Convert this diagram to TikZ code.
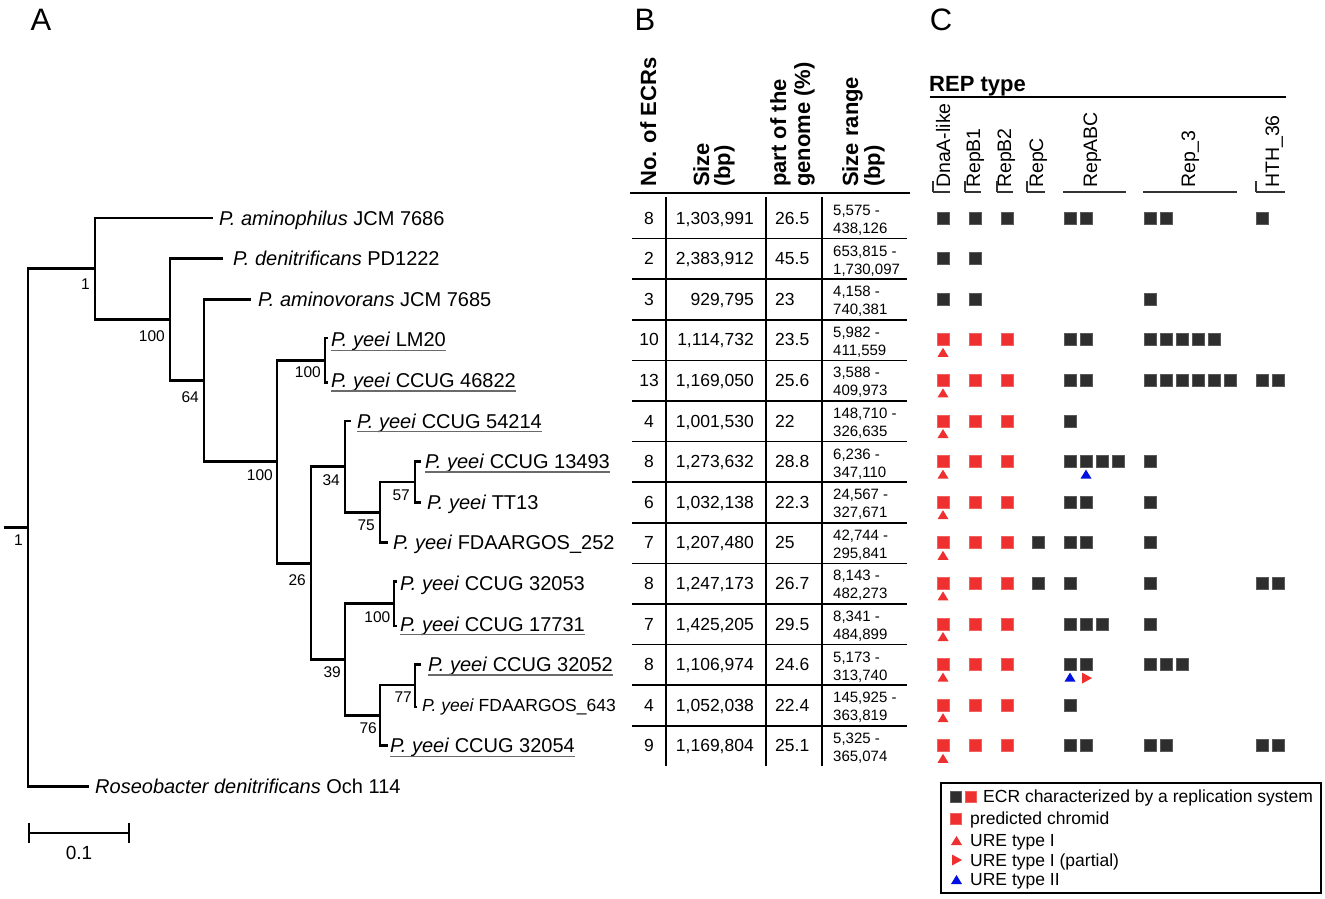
\documentclass[tikz,border=0pt]{standalone}
\usepackage{fontspec}
\setmainfont{Liberation Sans}
\usetikzlibrary{calc}
\newcommand\fsz[1]{\fontsize{#1}{#1}\selectfont}
\definecolor{dk}{HTML}{2E2E2E}
\definecolor{dkb}{HTML}{5A5A5A}
\definecolor{rd}{HTML}{EE3030}
\definecolor{rdb}{HTML}{F26060}
\definecolor{bl}{HTML}{0010E0}
\definecolor{ulc}{HTML}{6A6A6A}
% markers
\newcommand\bsq[2]{\filldraw[fill=dk,draw=dkb,line width=0.7pt] ({#1-6},{218+(#2-1)*40.6-6}) rectangle ++(12,12);}
\newcommand\rsq[2]{\filldraw[fill=rd,draw=rdb,line width=0.7pt] ({#1-6},{218+(#2-1)*40.6-6}) rectangle ++(12,12);}
\newcommand\bsqs[3]{\foreach \k in {1,...,#2}{\bsq{#1+16*(\k-1)}{#3}}}
\newcommand\tup[3]{\fill[#3] ({#1-5.5},{218+(#2-1)*40.6+17}) -- ++(11,0) -- ++(-5.5,-9) -- cycle;}
\newcommand\trt[3]{\fill[#3] ({#1-5},{218+(#2-1)*40.6+8}) -- ++(10,5.5) -- ++(-10,5.5) -- cycle;}
\newcommand\chr[1]{\rsq{943}{#1}\rsq{975}{#1}\rsq{1007}{#1}\tup{943}{#1}{rd}}
% table row
\newcommand\trow[6]{%
  \pgfmathsetmacro\ry{218+(#1-1)*40.6}
  \node[num,anchor=base] (n#1) at (649,{\ry+6}) {#2};
  \node[num,anchor=base east] (s#1) at (754,{\ry+6}) {#3};
  \node[num,anchor=base west] (p#1) at (775,{\ry+6}) {#4};
  \node[rng,anchor=base west] (ra#1) at (833,{\ry-2.5}) {#5};
  \node[rng,anchor=base west] (rb#1) at (833,{\ry+15.5}) {#6};
}
% tip label
\newcommand\tiplab[5]{\node[tip] (#1) at (#2,{218+(#3-1)*40.6+7}) {#4};
  \ifnum#5=1 \draw[ulc,line width=1.3pt] ($(#1.base west)+(0,3.5)$) -- ($(#1.base east)+(0,3.5)$);\fi}
\newcommand\bootlab[4]{\node[boot] (#1) at ($(#2)+(#3)$) {#4};}

\begin{document}
\begin{tikzpicture}[x=1pt,y=-1pt,
  br/.style={line width=2.8pt,line cap=rect},
  tip/.style={anchor=base west,inner sep=0pt,font=\fsz{20}},
  boot/.style={anchor=north east,inner sep=0pt,font=\fsz{15.5}},
  num/.style={inner sep=0pt,font=\fsz{17.5}},
  rng/.style={inner sep=0pt,font=\fsz{15}},
  hd/.style={rotate=90,anchor=base west,inner sep=0pt,font=\fsz{22}\bfseries},
  ch/.style={rotate=90,anchor=base west,inner sep=0pt,font=\fsz{19.5}},
  lg/.style={anchor=base west,inner sep=0pt,font=\fsz{17.5}},
  pan/.style={inner sep=0pt,font=\fsz{31}}]
\fill[white] (0,0) rectangle (1325,898);
\useasboundingbox (0,0) rectangle (1325,898);

% panel letters
\node[pan] (pA) at (41,20) {A};
\node[pan] (pB) at (645,20) {B};
\node[pan] (pC) at (941,20) {C};

% ---------------- tree ----------------
\coordinate (R0) at (5,527.6);
\coordinate (R) at (28,527.6);
\coordinate (A) at (95,268.75);
\coordinate (B) at (170,319.5);
\coordinate (C) at (204,380.4);
\coordinate (D) at (277,461.6);
\coordinate (M) at (325,360.1);
\coordinate (E) at (311,563.1);
\coordinate (F) at (345,466.7);
\coordinate (G) at (380,512.35);
\coordinate (H) at (415,481.9);
\coordinate (J) at (345,659.5);
\coordinate (I) at (394,603.7);
\coordinate (K) at (380,715.35);
\coordinate (L) at (415,684.9);

\coordinate (t1) at (212,218);
\coordinate (t2) at (222,258.6);
\coordinate (t3) at (250,299.2);
\coordinate (t4) at (327,338);
\coordinate (t5) at (327,382.5);
\coordinate (t6) at (350,421);
\coordinate (t7) at (420,461.6);
\coordinate (t8) at (420,502.2);
\coordinate (t9) at (387,542.8);
\coordinate (t10) at (396,581.5);
\coordinate (t11) at (396,626);
\coordinate (t12) at (420,664.6);
\coordinate (t13) at (416,707);
\coordinate (t14) at (387,745.8);
\coordinate (t15) at (88,786.4);

\draw[br] (R0) -- (R);
\draw[br] (R) |- (A);
\draw[br] (R) |- (t15);
\draw[br] (A) |- (t1);
\draw[br] (A) |- (B);
\draw[br] (B) |- (t2);
\draw[br] (B) |- (C);
\draw[br] (C) |- (t3);
\draw[br] (C) |- (D);
\draw[br] (D) |- (M);
\draw[br] (D) |- (E);
\draw[br] (M) |- (t4);
\draw[br] (M) |- (t5);
\draw[br] (E) |- (F);
\draw[br] (E) |- (J);
\draw[br] (F) |- (t6);
\draw[br] (F) |- (G);
\draw[br] (G) |- (H);
\draw[br] (G) |- (t9);
\draw[br] (H) |- (t7);
\draw[br] (H) |- (t8);
\draw[br] (J) |- (I);
\draw[br] (J) |- (K);
\draw[br] (I) |- (t10);
\draw[br] (I) |- (t11);
\draw[br] (K) |- (L);
\draw[br] (K) |- (t14);
\draw[br] (L) |- (t12);
\draw[br] (L) |- (t13);

\tiplab{l1}{219}{1}{\textit{P. aminophilus} JCM 7686}{0}
\tiplab{l2}{233}{2}{\textit{P. denitrificans} PD1222}{0}
\tiplab{l3}{258}{3}{\textit{P. aminovorans} JCM 7685}{0}
\tiplab{l4}{331}{4}{\textit{P. yeei} LM20}{1}
\tiplab{l5}{331}{5}{\textit{P. yeei} CCUG 46822}{1}
\tiplab{l6}{357}{6}{\textit{P. yeei} CCUG 54214}{1}
\tiplab{l7}{425}{7}{\textit{P. yeei} CCUG 13493}{1}
\tiplab{l8}{427}{8}{\textit{P. yeei} TT13}{0}
\tiplab{l9}{393}{9}{\textit{P. yeei} FDAARGOS\_252}{0}
\tiplab{l10}{400}{10}{\textit{P. yeei} CCUG 32053}{0}
\tiplab{l11}{400}{11}{\textit{P. yeei} CCUG 17731}{1}
\tiplab{l12}{428}{12}{\textit{P. yeei} CCUG 32052}{1}
\node[tip,font=\fsz{17.5}] (l13) at (422,{218+12*40.6+6}) {\textit{P. yeei} FDAARGOS\_643};
\tiplab{l14}{390}{14}{\textit{P. yeei} CCUG 32054}{1}
\tiplab{l15}{95}{15}{\textit{Roseobacter denitrificans} Och 114}{0}

\bootlab{bR}{R}{-5,7}{1}
\bootlab{bA}{A}{-5,10}{1}
\bootlab{bB}{B}{-5,11}{100}
\bootlab{bC}{C}{-5,11}{64}
\bootlab{bD}{D}{-4,8}{100}
\bootlab{bM}{M}{-4,6}{100}
\bootlab{bE}{E}{-5,11}{26}
\bootlab{bF}{F}{-5,8}{34}
\bootlab{bG}{G}{-5,7}{75}
\bootlab{bH}{H}{-5,8}{57}
\bootlab{bJ}{J}{-4,7}{39}
\bootlab{bI}{I}{-3.5,8}{100}
\bootlab{bK}{K}{-3,7}{76}
\bootlab{bL}{L}{-3,7}{77}

% scale bar
\coordinate (sb1) at (29,833);
\coordinate (sb2) at (129,833);
\draw[line width=2.4pt] (sb1) -- (sb2);
\draw[line width=2.4pt] ($(sb1)+(0,-10)$) -- ($(sb1)+(0,10)$);
\draw[line width=2.4pt] ($(sb2)+(0,-10)$) -- ($(sb2)+(0,10)$);
\node[inner sep=0pt,font=\fsz{19}] (sbl) at (79,853) {0.1};

% ---------------- table B ----------------
\node[hd] (hN) at (656,187) {No. of ECRs};
\node[hd] (hS1) at (709,187) {Size};
\node[hd] (hS2) at (730,187) {(bp)};
\node[hd] (hP1) at (786,187) {part of the};
\node[hd] (hP2) at (810,187) {genome (\%)};
\node[hd] (hR1) at (858,187) {Size range};
\node[hd] (hR2) at (880,187) {(bp)};
\draw[line width=2pt] (630,193) -- (910,193);
\foreach \vx in {666,766,822} \draw[line width=2pt] (\vx,197) -- (\vx,766);
\foreach \kk in {0,...,12} \draw[line width=1.6pt] (632,{238.5+40.6*\kk}) -- (907,{238.5+40.6*\kk});

\trow{1}{8}{1,303,991}{26.5}{5,575 -}{438,126}
\trow{2}{2}{2,383,912}{45.5}{653,815 -}{1,730,097}
\trow{3}{3}{929,795}{23}{4,158 -}{740,381}
\trow{4}{10}{1,114,732}{23.5}{5,982 -}{411,559}
\trow{5}{13}{1,169,050}{25.6}{3,588 -}{409,973}
\trow{6}{4}{1,001,530}{22}{148,710 -}{326,635}
\trow{7}{8}{1,273,632}{28.8}{6,236 -}{347,110}
\trow{8}{6}{1,032,138}{22.3}{24,567 -}{327,671}
\trow{9}{7}{1,207,480}{25}{42,744 -}{295,841}
\trow{10}{8}{1,247,173}{26.7}{8,143 -}{482,273}
\trow{11}{7}{1,425,205}{29.5}{8,341 -}{484,899}
\trow{12}{8}{1,106,974}{24.6}{5,173 -}{313,740}
\trow{13}{4}{1,052,038}{22.4}{145,925 -}{363,819}
\trow{14}{9}{1,169,804}{25.1}{5,325 -}{365,074}

% ---------------- panel C ----------------
\node[anchor=base west,inner sep=0pt,font=\fsz{22}\bfseries] (rep) at (929,91) {REP type};
\draw[line width=1.6pt] (930,97) -- (1286,97);
\node[ch] (cD) at (950,188) {DnaA-like};
\node[ch] (cB1) at (980,188) {RepB1};
\node[ch] (cB2) at (1011,188) {RepB2};
\node[ch] (cC) at (1043,188) {RepC};
\node[ch] (cABC) at (1097,188) {RepABC};
\node[ch] (cR3) at (1195,188) {Rep\_3};
\node[ch] (cH) at (1279,188) {HTH\_36};
\foreach \ua/\ub in {933/950,965/981,997/1013,1027/1045,1063/1126,1143/1237,1256/1285}
  \draw[line width=1.3pt,black!80] (\ua,192) -- (\ub,192);
\foreach \ua in {933,965,997,1027,1256}
  \draw[line width=1.3pt,black!80] (\ua,192) -- (\ua,181);

% row 1
\bsq{943}{1}\bsq{975}{1}\bsq{1007}{1}\bsqs{1070}{2}{1}\bsqs{1150}{2}{1}\bsq{1262}{1}
% row 2
\bsq{943}{2}\bsq{975}{2}
% row 3
\bsq{943}{3}\bsq{975}{3}\bsq{1150}{3}
% row 4
\chr{4}\bsqs{1070}{2}{4}\bsqs{1150}{5}{4}
% row 5
\chr{5}\bsqs{1070}{2}{5}\bsqs{1150}{6}{5}\bsqs{1262}{2}{5}
% row 6
\chr{6}\bsq{1070}{6}
% row 7
\chr{7}\bsqs{1070}{4}{7}\tup{1086}{7}{bl}\bsq{1150}{7}
% row 8
\chr{8}\bsqs{1070}{2}{8}\bsq{1150}{8}
% row 9
\chr{9}\bsq{1038}{9}\bsqs{1070}{2}{9}\bsq{1150}{9}
% row 10
\chr{10}\bsq{1038}{10}\bsq{1070}{10}\bsq{1150}{10}\bsqs{1262}{2}{10}
% row 11
\chr{11}\bsqs{1070}{3}{11}\bsq{1150}{11}
% row 12
\chr{12}\bsqs{1070}{2}{12}\tup{1070}{12}{bl}\trt{1087}{12}{rd}\bsqs{1150}{3}{12}
% row 13
\chr{13}\bsq{1070}{13}
% row 14
\chr{14}\bsqs{1070}{2}{14}\bsqs{1150}{2}{14}\bsqs{1262}{2}{14}

% legend
\draw[line width=1.5pt] (941,783) rectangle (1321,893);
\filldraw[fill=dk,draw=dkb,line width=0.7pt] (950,791) rectangle ++(11,11);
\filldraw[fill=rd,draw=rdb,line width=0.7pt] (965,791) rectangle ++(11,11);
\node[lg] (lg1) at (983,802.5) {ECR characterized by a replication system};
\filldraw[fill=rd,draw=rdb,line width=0.7pt] (950,813) rectangle ++(11,11);
\node[lg] (lg2) at (970,824.5) {predicted chromid};
\fill[rd] (951,845) -- ++(11,0) -- ++(-5.5,-9) -- cycle;
\node[lg] (lg3) at (970,846.5) {URE type I};
\fill[rd] (952,854.5) -- ++(10,5.5) -- ++(-10,5.5) -- cycle;
\node[lg] (lg4) at (970,866) {URE type I (partial)};
\fill[bl] (951,884) -- ++(11,0) -- ++(-5.5,-9) -- cycle;
\node[lg] (lg5) at (970,885.5) {URE type II};
\end{tikzpicture}
\end{document}
